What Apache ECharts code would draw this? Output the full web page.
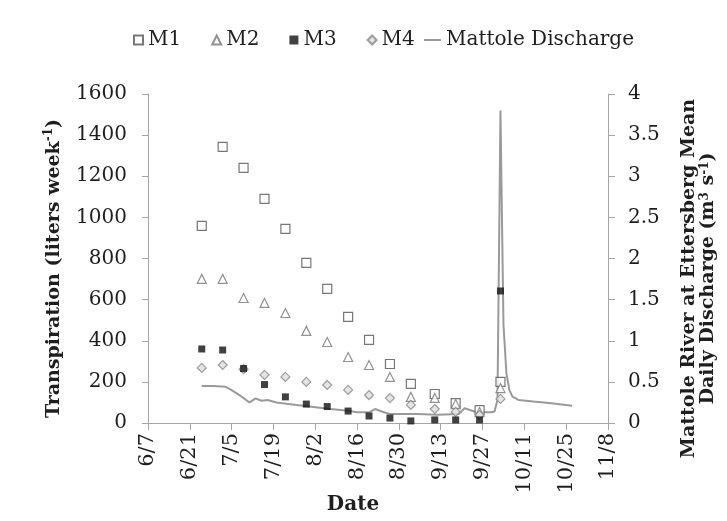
<!DOCTYPE html>
<html>
<head>
<meta charset="utf-8">
<script src="https://cdn.jsdelivr.net/npm/echarts@6/dist/echarts.min.js"></script>
<style>html,body{margin:0;padding:0;background:#fff;}#c{width:727px;height:521px;}</style>
</head>
<body>
<div id="c"></div>
<script>
// ---- data ----
const startDate = '6/7';
const endDate = '11/8';
const tickStepDays = 14;
const sampleDates = ['6/25','7/2','7/9','7/16','7/23','7/30','8/6','8/13','8/20','8/27','9/3','9/11','9/18','9/26','10/3'];
const m1 = [959, 1343, 1241, 1090, 944, 779, 652, 516, 404, 287, 190, 141, 97, 63, 200];
const m2 = [701, 701, 608, 584, 535, 448, 394, 321, 282, 224, 127, 122, 92, 53, 170];
const m3 = [360, 355, 265, 187, 127, 92, 80, 58, 34, 24, 10, 15, 15, 15, 642];
const m4 = [268, 282, 262, 234, 224, 200, 185, 161, 136, 121, 88, 68, 54, 39, 117];
const dischargeDates = ['6/25','6/29','7/3','7/5','7/8','7/11','7/13','7/15','7/17','7/20','7/24','7/31','8/7','8/13','8/16','8/20','8/22','8/25','8/27','9/5','9/12','9/19','9/21','9/25','9/30','10/1','10/2','10/3','10/4','10/5','10/6','10/7','10/9','10/14','10/20','10/25','10/27'];
const dischargeValues = [0.45,0.45,0.44,0.40,0.33,0.25,0.30,0.27,0.28,0.25,0.23,0.20,0.17,0.15,0.13,0.13,0.17,0.13,0.11,0.11,0.10,0.11,0.18,0.13,0.13,0.14,0.28,3.80,1.20,0.60,0.40,0.32,0.28,0.26,0.24,0.22,0.21];
const seriesNames = ['M1','M2','M3','M4','Mattole Discharge'];

// ---- helpers ----
const YEAR = 2009;
function toMs(md){const p=md.split('/');return Date.UTC(YEAR, +p[0]-1, +p[1]);}
const base = toMs(startDate);
function dayOf(md){return Math.round((toMs(md)-base)/86400000);}
function fmtDay(v){const d=new Date(base+v*86400000);return (d.getUTCMonth()+1)+'/'+d.getUTCDate();}
function pairs(dates, vals){return dates.map((d,i)=>[dayOf(d), vals[i]]);}

const FONT = 'DejaVu Serif';
const txt = {fontFamily: FONT, fontSize: 20, color: '#1e1e1e'};
const axisGray = '#a6a6a6';
const supStyle = {fontFamily: FONT, fontSize: 12, fontWeight: 'bold', color: '#1e1e1e', verticalAlign: 'top'};

const chart = echarts.init(document.getElementById('c'), null, {renderer:'canvas'});
chart.setOption({
  backgroundColor: '#fff',
  animation: false,
  legend: [{
    data: seriesNames.slice(0,4),
    left: 128, top: 25,
    itemWidth: 9, itemHeight: 9, itemGap: 30,
    textStyle: txt
  },{
    data: [{name: seriesNames[4], icon: 'rect'}],
    left: 419, top: 25,
    itemWidth: 17, itemHeight: 2,
    textStyle: txt
  }],
  grid: {left: 148, right: 119, top: 94, bottom: 98, containLabel: false, outerBoundsMode: 'none'},
  xAxis: {
    type: 'value',
    min: 0, max: dayOf(endDate), interval: tickStepDays,
    name: 'Date', nameLocation: 'middle', nameGap: 72, nameMoveOverlap: false,
    nameTextStyle: {fontFamily: FONT, fontSize: 20, fontWeight: 'bold', color: '#1e1e1e', padding: [0, 50, 0, 0]},
    axisLine: {lineStyle: {color: axisGray}},
    axisTick: {show: true, length: 7, lineStyle: {color: axisGray}},
    axisLabel: Object.assign({}, txt, {fontSize: 21, rotate: 90, margin: 10, formatter: v => fmtDay(v)}),
    splitLine: {show: false}
  },
  yAxis: [{
    type: 'value', min: 0, max: 1600, interval: 200,
    name: 'Transpiration (liters week{sup|-1})',
    nameLocation: 'middle', nameGap: 76, nameRotate: 90,
    nameTextStyle: {fontFamily: FONT, fontSize: 19, fontWeight: 'bold', color: '#1e1e1e', lineHeight: 22,
      padding: [0, 20, 0, 0],
      rich: {sup: supStyle}},
    axisLine: {show: true, lineStyle: {color: axisGray}},
    axisTick: {show: true, length: 6, lineStyle: {color: axisGray}},
    axisLabel: Object.assign({}, txt, {margin: 21, formatter: v => String(v)}),
    splitLine: {show: false}
  },{
    type: 'value', min: 0, max: 4, interval: 0.5, position: 'right',
    name: 'Mattole River at Ettersberg Mean\nDaily Discharge (m{sup|3} s{sup|-1})',
    nameLocation: 'middle', nameGap: 72, nameRotate: 90,
    nameTextStyle: {fontFamily: FONT, fontSize: 19, fontWeight: 'bold', color: '#1e1e1e', lineHeight: 19,
      padding: [0, 40, 0, 0],
      rich: {sup: Object.assign({}, supStyle, {lineHeight: 19})}},
    axisLine: {show: true, lineStyle: {color: axisGray}},
    axisTick: {show: true, length: 7, lineStyle: {color: axisGray}},
    axisLabel: Object.assign({}, txt, {margin: 20, formatter: v => String(v)}),
    splitLine: {show: false}
  }],
  series: [{
    name: seriesNames[4], type: 'line', yAxisIndex: 1,
    data: pairs(dischargeDates, dischargeValues),
    symbol: 'none', z: 1,
    lineStyle: {color: '#9a9a9a', width: 2},
    itemStyle: {color: '#9a9a9a'}
  },{
    name: seriesNames[0], type: 'scatter', data: pairs(sampleDates, m1),
    symbol: 'rect', symbolSize: 9, z: 3,
    itemStyle: {color: '#fff', borderColor: '#555', borderWidth: 1.2}
  },{
    name: seriesNames[1], type: 'scatter', data: pairs(sampleDates, m2),
    symbol: 'triangle', symbolSize: 9, z: 3,
    itemStyle: {color: '#fff', borderColor: '#777', borderWidth: 1.2}
  },{
    name: seriesNames[2], type: 'scatter', data: pairs(sampleDates, m3),
    symbol: 'rect', symbolSize: 7, z: 4,
    itemStyle: {color: '#111'}
  },{
    name: seriesNames[3], type: 'scatter', data: pairs(sampleDates, m4),
    symbol: 'diamond', symbolSize: 9, z: 3,
    itemStyle: {color: '#ddd', borderColor: '#888', borderWidth: 1.2}
  }]
});
</script>
</body>
</html>
